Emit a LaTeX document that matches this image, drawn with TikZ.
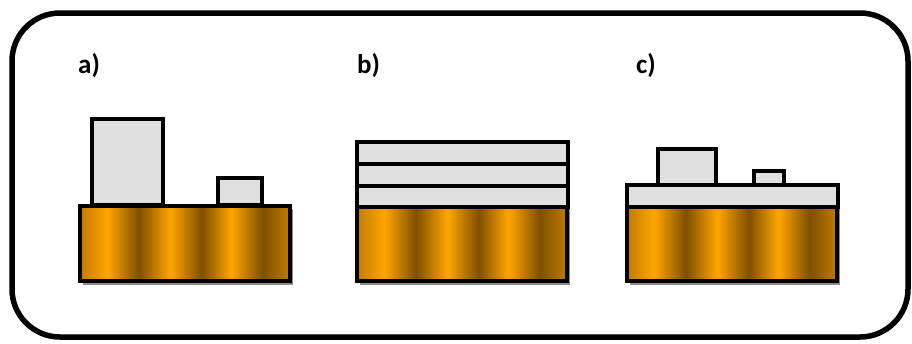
\documentclass[tikz,border=0pt]{standalone}
\usepackage{fontspec}
\setmainfont{Carlito}
\definecolor{obright}{HTML}{FFA500}
\definecolor{odark}{HTML}{7F5000}
\definecolor{omid}{HTML}{C07C00}
\definecolor{lgray}{HTML}{E0E0E0}
\pgfdeclarehorizontalshading{stripes}{100bp}{color(0bp)=(omid); color(25bp)=(omid); color(31.5bp)=(obright); color(39bp)=(odark); color(46.5bp)=(obright); color(54bp)=(odark); color(61bp)=(obright); color(68.5bp)=(odark); color(75bp)=(omid); color(100bp)=(omid)}
\begin{document}
\begin{tikzpicture}[x=1pt,y=-1pt,
  sub/.style={draw=black, line width=3.6pt, shading=stripes},
  film/.style={draw=black, line width=3.6pt, fill=lgray},
  shadowbox/.style={fill=black!45, draw=none},
  lbl/.style={font=\bfseries\fontsize{27}{27}\selectfont, inner sep=0pt, anchor=south west}]
\useasboundingbox (0,0) rectangle (912,343);
\draw[line width=5.5pt, rounded corners=48pt] (12,13) rectangle (908,337);
% labels
\node[lbl] (la) at (78,78) {a)};
\node[lbl] (lb) at (357,78) {b)};
\node[lbl] (lc) at (636,78) {c)};
% shadows
\foreach \x in {80,357,627}{
  \fill[shadowbox] (\x+3,209) rectangle (\x+213,285);
}
% a)
\draw[film] (92,119) rectangle (163,205);
\draw[film] (218,178) rectangle (262,205);
\draw[sub] (80,206) rectangle (290,281);
% b)
\draw[film] (357,142) rectangle (568,164);
\draw[film] (357,164) rectangle (568,186);
\draw[film] (357,186) rectangle (568,207);
\draw[sub] (357,207) rectangle (567,281);
% c)
\draw[film] (658,149) rectangle (716,185);
\draw[film] (754,171) rectangle (784,185);
\draw[film] (627,185) rectangle (838,207);
\draw[sub] (627,207) rectangle (837,281);
\end{tikzpicture}
\end{document}
